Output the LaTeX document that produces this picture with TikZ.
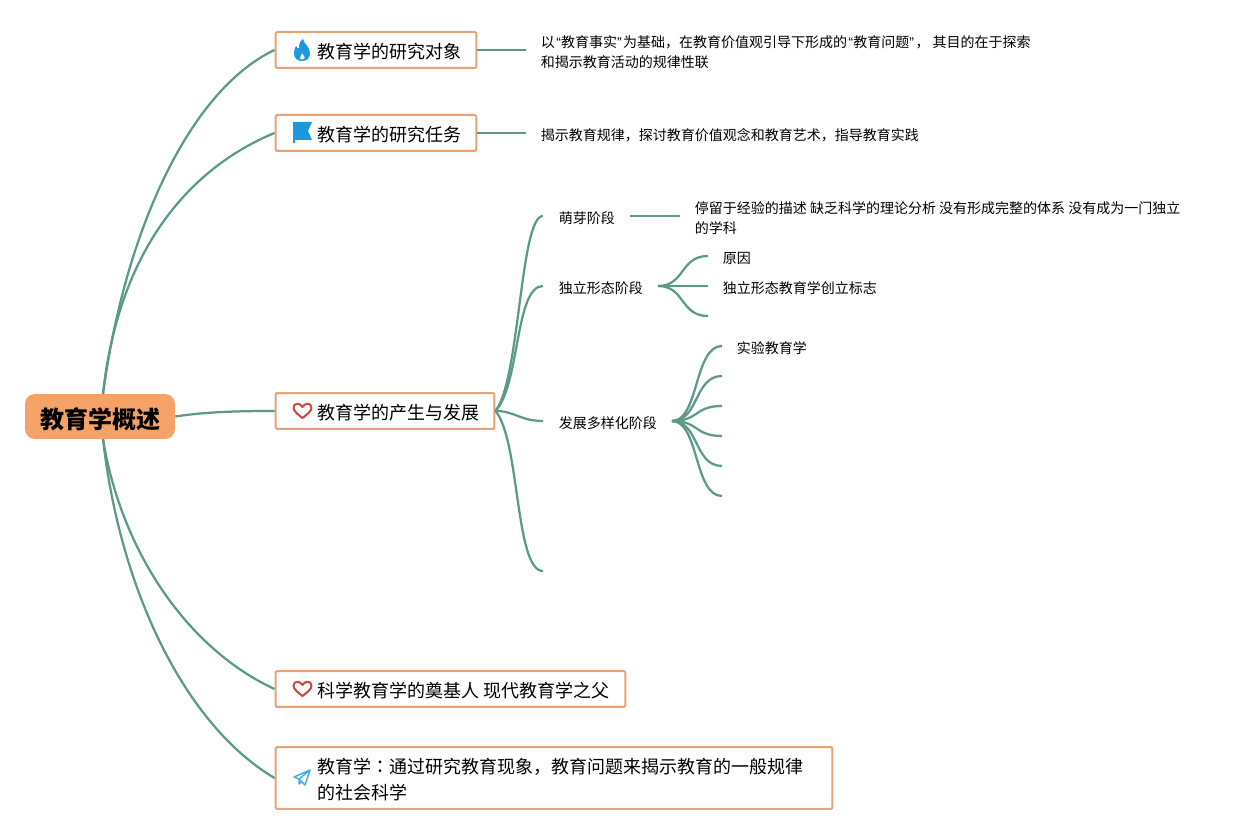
\documentclass[tikz,border=0pt]{standalone}
\usepackage{fontspec}
\setmainfont{Noto Sans CJK SC}
\newfontfamily\quotefont{Liberation Sans}
\newfontfamily\colonfont{Noto Sans CJK TC}
\usetikzlibrary{calc}
\definecolor{linkgreen}{HTML}{5B9A88}
\definecolor{boxorange}{HTML}{E8A274}
\definecolor{rootorange}{HTML}{F4A267}
\definecolor{iconblue}{HTML}{1C98E0}
\definecolor{iconred}{HTML}{C8483E}
\newcommand{\pad}{\hspace*{0.84cm}\rule{0pt}{11pt}}
\newcommand{\openq}{\kern0.85pt{\quotefont “}}
\newcommand{\closeq}{{\quotefont ”}\kern0.85pt}

\begin{document}
\begin{tikzpicture}[x=0.02cm, y=-0.02cm]
        % ================= 样式定义 =================
        \tikzset{
            % 中心主题
            rootnode/.style={rounded corners=0.2cm, fill=rootorange, minimum width=3cm, minimum height=0.9cm, inner sep=0pt, font=\fontsize{13.66}{16}\selectfont\bfseries},
            % 一级主题
            topic/.style={draw=boxorange, line width=0.04cm, fill=white, rounded corners=0.04cm, anchor=west, inner sep=0pt, align=left, minimum height=0.72cm, font=\fontsize{10.24}{14.8}\selectfont},
            % 小字
            note/.style={anchor=west, inner sep=0pt, align=left, font=\fontsize{7.97}{11.38}\selectfont},
            % 连线
            link/.style={line width=0.045cm, linkgreen},
            % 图标
            flame/.pic={\fill[iconblue, even odd rule] (1,-11) .. controls (2,-6) and (8,-3) .. (8,3) .. controls (8,8) and (5,11) .. (0,11) .. controls (-5,11) and (-8,8) .. (-8,3) .. controls (-8,0) and (-7,-3) .. (-6,-4) .. controls (-5,-2) and (-4,-1) .. (-3,-2) .. controls (-3,-6) and (-2,-9) .. (1,-11) -- cycle (0,3) .. controls (0,5) and (-3,6) .. (-2,9) .. controls (-1,10) and (2,10) .. (3,8) .. controls (3,6) and (1,5) .. (0,3) -- cycle;},
            flagicon/.pic={\fill[iconblue] (-9,-11) -- (10,-11) -- (6,-2) -- (10,7) -- (-7,7) -- (-7,10) -- (-9,10) -- cycle;},
            heart/.pic={\draw[iconred, line width=0.04cm, line join=round] (0,7) .. controls (-4,4) and (-9,0) .. (-9,-3) .. controls (-9,-9) and (-2,-8) .. (0,-4) .. controls (2,-8) and (9,-9) .. (9,-3) .. controls (9,0) and (4,4) .. (0,7) -- cycle;},
            plane/.pic={\draw[iconblue!80!white, line width=0.03cm, line join=round] (8,-8) -- (-8,-1) -- (-3,1) -- cycle (8,-8) -- (3,7) -- (-3,1) (-3,1) -- (-3,6) -- (0,4);}
        }

        \useasboundingbox (0,0) rectangle (1255,834);

        % ================= 1. 主题节点 =================
        \node[rootnode] (root) at (100,416.5) {\rule{0pt}{14.5pt}教育学概述};

        \node[topic, text width=4.02cm] (t1) at (274.5,50) {\pad 教育学的研究对象};
        \node[topic, text width=4.02cm] (t2) at (274.5,133) {\pad 教育学的研究任务};
        \node[topic, text width=4.38cm] (t3) at (274.5,411) {\pad 教育学的产生与发展};
        \node[topic, text width=7cm] (t4) at (274.5,689) {\pad 科学教育学的奠基人\hspace{2.4pt}现代教育学之父};
        \node[topic, text width=11.14cm, minimum height=1.24cm] (t5) at (274.5,778) {\pad 教育学{\colonfont ：}通过研究教育现象，教育问题来揭示教育的一般规律\\ \hspace*{0.84cm}的社会科学};

        % 图标
        \pic at (302,50) {flame};
        \pic at (302,133) {flagicon};
        \pic at (302.5,411) {heart};
        \pic at (302.5,689) {heart};
        \pic at (302,778) {plane};

        % ================= 2. 右侧文字 =================
        \node[note] (d1) at (540.5,52) {以\openq 教育事实\closeq 为基础，在教育价值观引导下形成的\openq 教育问题\closeq ， 其目的在于探索\\和揭示教育活动的规律性联};
        \node[note] (d2) at (540.5,135) {揭示教育规律，探讨教育价值观念和教育艺术，指导教育实践};

        \node[note] (s1) at (558.5,218) {萌芽阶段};
        \node[note] (s2) at (558.5,288) {独立形态阶段};
        \node[note] (s3) at (558.5,423) {发展多样化阶段};

        \node[note] (d3) at (694.5,218) {停留于经验的描述 缺乏科学的理论分析 没有形成完整的体系 没有成为一门独立\\的学科};
        \node[note] (l1) at (722.5,258) {原因};
        \node[note] (l2) at (722.5,288) {独立形态教育学创立标志};
        \node[note] (l3) at (736.5,348) {实验教育学};

        % ================= 3. 连线端点 =================
        \coordinate (rootup) at (103,394);
        \coordinate (rootdown) at (103,439);
        \coordinate (d1in) at (526,50);
        \coordinate (d2in) at (526,133);
        \coordinate (b1) at (543,216);
        \coordinate (b2) at (543,286);
        \coordinate (b3) at (543,421);
        \coordinate (b4) at (543,571);
        \coordinate (s1out) at (630,216);
        \coordinate (d3in) at (680,216);
        \coordinate (s2out) at (658,286);
        \coordinate (s3out) at (672,421);

        % ================= 4. 绘制连线 =================
        % 中心到一级
        \draw[link] (rootup) .. controls (125,230) and (190,90) .. (t1.west);
        \draw[link] (rootup) .. controls (118,255) and (185,170) .. (t2.west);
        \draw[link] (root.east) .. controls (205,412) and (235,411) .. (t3.west);
        \draw[link] (rootdown) .. controls (122,555) and (190,650) .. (t4.west);
        \draw[link] (rootdown) .. controls (120,590) and (185,725) .. (t5.west);

        \draw[link] (t1.east) -- (d1in);
        \draw[link] (t2.east) -- (d2in);

        % 产生与发展的四个分支
        \draw[link] (t3.east) .. controls (520,380) and (520,216) .. (b1);
        \draw[link] (t3.east) .. controls (520,385) and (515,286) .. (b2);
        \draw[link] (t3.east) .. controls (515,411) and (520,421) .. (b3);
        \draw[link] (t3.east) .. controls (520,440) and (515,571) .. (b4);

        \draw[link] (s1out) -- (d3in);

        \foreach \i/\y in {1/256,2/286,3/316} {
            \coordinate (e\i) at (708,\y);
            \draw[link] (s2out) .. controls (685,286) and (680,\y) .. (e\i);
        }
        \foreach \i/\y in {1/346,2/376,3/406,4/436,5/466,6/496} {
            \coordinate (f\i) at (722,\y);
            \draw[link] (s3out) .. controls (699,421) and (694,\y) .. (f\i);
        }
\end{tikzpicture}
\end{document}
